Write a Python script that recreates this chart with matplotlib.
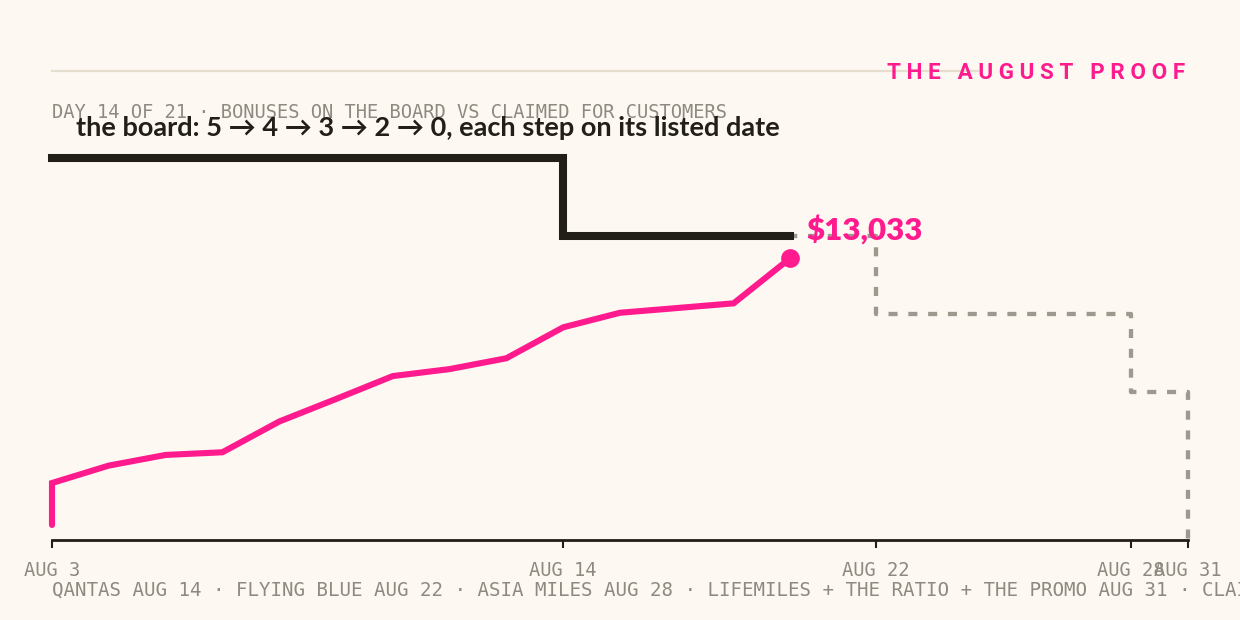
import matplotlib
matplotlib.use("Agg")
import matplotlib.pyplot as plt
from matplotlib.lines import Line2D
from matplotlib.patches import Rectangle

# ---------------- data ----------------
# campaign day index (0 = Aug 3 ... 20 = Aug 31); today = day 14 of 21 -> index 13
claim_day = [0, 0, 1, 2, 3, 4, 5, 6, 7, 8, 9, 10, 11, 12, 13]
claimed_usd = [0, 2050, 2900, 3420, 3550, 5050, 6150, 7270, 7610, 8140,
               9650, 10360, 10590, 10820, 13033]

board_pos = [0, 9, 14.5, 19, 20]          # positions of listed dates on the day axis
board_count = [5, 4, 3, 2, 0]              # bonuses on the board after each date
today = 13

tick_pos = [0, 9, 14.5, 19, 20]
tick_labels = ["AUG 3", "AUG 14", "AUG 22", "AUG 28", "AUG 31"]

kicker = "THE AUGUST PROOF"
subtitle = "DAY 14 OF 21 \u00b7 BONUSES ON THE BOARD VS CLAIMED FOR CUSTOMERS"
title = "the board: 5 \u2192 4 \u2192 3 \u2192 2 \u2192 0, each step on its listed date"
value_label = "${:,.0f}".format(claimed_usd[-1])
footer = ("QANTAS AUG 14 \u00b7 FLYING BLUE AUG 22 \u00b7 ASIA MILES AUG 28 \u00b7 "
          "LIFEMILES + THE RATIO + THE PROMO AUG 31 \u00b7 CLAIMED")

# ---------------- style ----------------
W, H = 1240, 620
BG = "#fdf8f2"
PINK = "#ff1a8d"
INK = "#221e18"
DOT = "#9d998f"
MUTED = "#8f8a80"
RULE = "#e6dfcf"
MONO = "DejaVu Sans Mono"
SANS = ["Lato", "DejaVu Sans"]

fig = plt.figure(figsize=(W / 100, H / 100), dpi=100, facecolor=BG)


def fx(x):
    return x / W


def fy(y):
    return 1 - y / H


# axes: x 52..1188 px, y 140..540 px
ax = fig.add_axes([fx(52), fy(540), fx(1188) - fx(52), (540 - 140) / H])
ax.set_facecolor("none")
ax.set_xlim(0, 20)
ax.set_ylim(0.103, 5.23)

# board steps: solid up to today, dotted after
past_x = [p for p in board_pos if p <= today]
past_y = [board_count[i] for i, p in enumerate(board_pos) if p <= today]
past_x = past_x + [today]
past_y = past_y + [past_y[-1]]
fut_x = [today] + [p for p in board_pos if p > today] + [board_pos[-1]]
fut_y = [past_y[-1]] + [board_count[i] for i, p in enumerate(board_pos) if p > today] + [board_count[-1]]

# clip only at the baseline, not at the right edge
clip_rect = Rectangle((-0.03, 0.0), 1.06, 1.2, transform=ax.transAxes,
                      facecolor="none", edgecolor="none")
ax.add_patch(clip_rect)

dotted, = ax.step(fut_x, fut_y, where="post", color=DOT, lw=3.1,
                  linestyle=(0.4, (2.1, 2.5)), dash_capstyle="butt", zorder=2)
dotted.set_clip_path(clip_rect)
solid, = ax.step(past_x, past_y, where="post", color=INK, lw=5.8,
                 solid_capstyle="projecting", solid_joinstyle="miter", zorder=3)
solid.set_clip_path(clip_rect)

# claimed line on a twin scale
ax2 = ax.twinx()
ax2.set_ylim(-732, 18793)
ax2.plot(claim_day, claimed_usd, color=PINK, lw=4.4, solid_capstyle="round",
         solid_joinstyle="miter", zorder=4, clip_on=False)
ax2.plot([claim_day[-1]], [claimed_usd[-1]], "o", color=PINK, ms=13.5,
         mec="none", zorder=5, clip_on=False)
ax2.set_yticks([])
for s in ax2.spines.values():
    s.set_visible(False)

# axis styling
for side in ["left", "right", "top"]:
    ax.spines[side].set_visible(False)
ax.spines["bottom"].set_color(INK)
ax.spines["bottom"].set_linewidth(2.0)
ax.set_yticks([])
ax.set_xticks(tick_pos)
ax.set_xticklabels(tick_labels, fontfamily=MONO, fontsize=13.5, color=MUTED)
ax.tick_params(axis="x", direction="out", length=6, width=1.5, color=INK, pad=9)

# ---------------- texts ----------------
fig.add_artist(Line2D([fx(52), fx(978)], [fy(71), fy(71)], color=RULE, lw=1.6,
                      transform=fig.transFigure, zorder=0))
fig.text(fx(1185), fy(79), "   ".join(" ".join(w) for w in kicker.split(" ")),
         ha="right", va="baseline", family=["Roboto", "DejaVu Sans"],
         fontweight="bold", fontsize=16.2, color=PINK)
fig.text(fx(52), fy(118), subtitle, ha="left", va="baseline", fontfamily=MONO,
         fontsize=13.5, color=MUTED)
fig.text(fx(76), fy(136), title, ha="left", va="baseline", family=SANS,
         fontweight="bold", fontsize=19.5, color=INK)
ax2.annotate(value_label, xy=(claim_day[-1], claimed_usd[-1]), xytext=(16, 18),
             textcoords="offset pixels", ha="left", va="baseline", family=SANS,
             fontweight="heavy", fontsize=22.5, color=PINK, zorder=6,
             annotation_clip=False)
fig.text(fx(52), fy(596), footer, ha="left", va="baseline", fontfamily=MONO,
         fontsize=13.75, color=MUTED)

fig.savefig("out.png", dpi=100, facecolor=BG)
